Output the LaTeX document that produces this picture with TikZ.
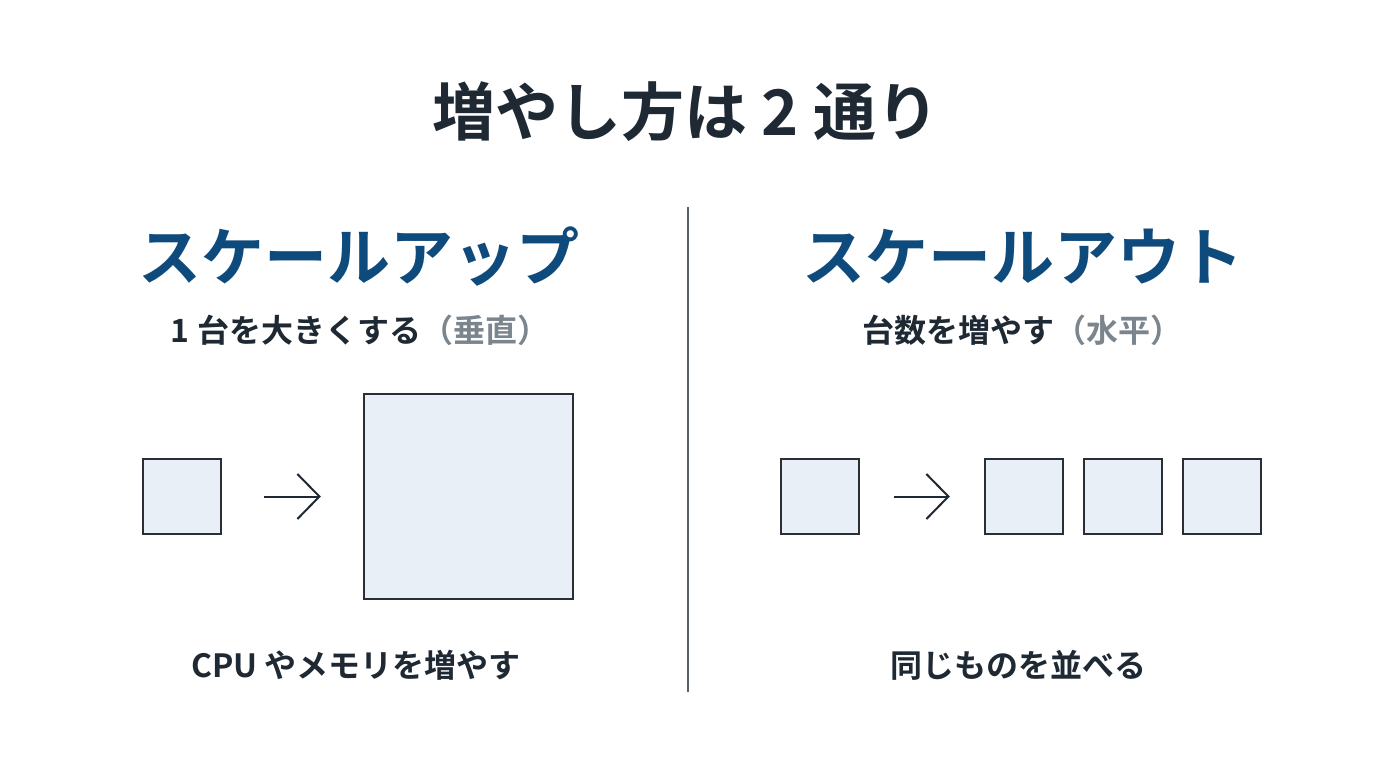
\documentclass[tikz,border=0pt]{standalone}
\usepackage{fontspec}
\setmainfont{Noto Sans CJK JP}[BoldFont={Noto Sans CJK JP Bold}]
\usepackage{xcolor}
\usetikzlibrary{positioning,arrows.meta}
\definecolor{inkdark}{HTML}{1E2933}
\definecolor{headblue}{HTML}{0F4A7D}
\definecolor{softgray}{HTML}{7B858E}
\definecolor{boxfill}{HTML}{E8EFF7}
\definecolor{boxline}{HTML}{2A2F35}
\definecolor{rulegray}{HTML}{5A6166}

\begin{document}
\begin{tikzpicture}[x=0.5pt, y=-0.5pt, font=\bfseries,
    title/.style={text=inkdark, font=\fontsize{31.5}{38}\selectfont\bfseries},
    heading/.style={text=headblue, font=\fontsize{31.5}{38}\selectfont\bfseries},
    subline/.style={text=inkdark, font=\fontsize{16}{19}\selectfont\bfseries},
    note/.style={text=inkdark, font=\fontsize{16}{20}\selectfont\bfseries},
    unit/.style={draw=boxline, fill=boxfill, line width=1.2pt, inner sep=0pt, minimum width=39pt, minimum height=37.5pt},
    growarrow/.style={draw=inkdark, line width=1pt, -{Straight Barb[length=11pt, width=22.5pt, line width=1pt]}}]
  \useasboundingbox[fill=white] (0,0) rectangle (1376,768);
  \node[title] (top) at (686, 112) {増やし方は 2 通り};
  \draw[rulegray, line width=0.8pt] (688, 207) -- (688, 692);
  % scale up
  \node[heading] (upT) at (359, 257) {スケールアップ};
  \node[subline] (upS) at (360, 330) {1 台を大きくする\textcolor{softgray}{（垂直）}};
  \node[unit] (one) at (182, 496.5) {};
  \node[unit, minimum width=104.5pt, minimum height=102.5pt] (big) at (468.5, 496.5) {};
  \draw[growarrow, shorten <=21pt, shorten >=21pt] (one.east) -- (big.west);
  \node[note] (upN) at (356, 665) {CPU やメモリを増やす};
  % scale out
  \node[heading] (outT) at (1023, 257) {スケールアウト};
  \node[subline] (outS) at (1022, 330) {台数を増やす\textcolor{softgray}{（水平）}};
  \node[unit] (solo) at (820, 496.5) {};
  \node[unit] (c1) at (1024, 496.5) {};
  \node[unit] (c2) at (1123, 496.5) {};
  \node[unit] (c3) at (1222, 496.5) {};
  \draw[growarrow, shorten <=17pt, shorten >=17pt] (solo.east) -- (c1.west);
  \node[note] (outN) at (1018, 665) {同じものを並べる};
\end{tikzpicture}
\end{document}
